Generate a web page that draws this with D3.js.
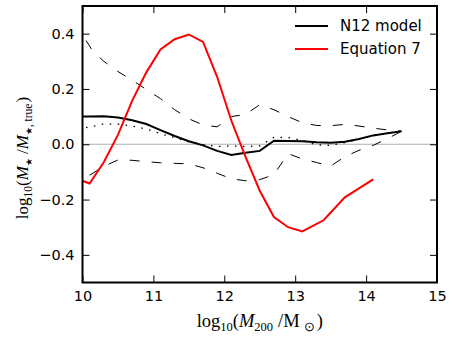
<!DOCTYPE html>
<html><head><meta charset="utf-8">
<script src="https://cdn.jsdelivr.net/npm/d3@7"></script>
<style>
html,body{margin:0;padding:0;background:#fff;}
svg{display:block;}
.tick text{font-family:"DejaVu Sans",sans-serif;}
</style>
</head><body>
<svg id="c" width="460" height="345"></svg>
<script>
// ---- data ----
const xTicks = [10, 11, 12, 13, 14, 15];
const yTicks = [-0.4, -0.2, 0.0, 0.2, 0.4];

const n12X = [10.0,10.1,10.3,10.5,10.7,10.9,11.1,11.3,11.5,11.7,11.9,12.1,12.3,12.5,12.7,12.9,13.1,13.3,13.5,13.7,13.9,14.1,14.3,14.5];
const n12Y = [0.100,0.100,0.101,0.097,0.087,0.073,0.051,0.030,0.011,-0.004,-0.024,-0.039,-0.031,-0.024,0.013,0.012,0.011,0.007,0.005,0.009,0.019,0.032,0.040,0.047];

const upperX = [10.05,10.15,10.3,10.5,10.7,10.9,11.1,11.3,11.5,11.7,11.9,12.1,12.3,12.5,12.7,12.9,13.1,13.3,13.5,13.7,13.9,14.1,14.3,14.5];
const upperY = [0.375,0.335,0.300,0.263,0.232,0.198,0.165,0.125,0.092,0.070,0.063,0.100,0.108,0.143,0.125,0.100,0.078,0.068,0.067,0.072,0.066,0.058,0.052,0.047];

const lowerX = [10.1,10.3,10.5,10.7,10.9,11.1,11.3,11.5,11.7,11.9,12.1,12.3,12.5,12.7,12.9,13.1,13.3,13.5,13.7,13.9,14.1,14.3,14.5];
const lowerY = [-0.112,-0.080,-0.057,-0.058,-0.063,-0.067,-0.069,-0.071,-0.085,-0.105,-0.125,-0.132,-0.128,-0.110,-0.034,-0.053,-0.066,-0.079,-0.045,-0.022,-0.004,0.020,0.047];

const dotX = [10.05,10.3,10.5,10.7,10.9,11.1,11.3,11.5,11.7,11.9,12.1,12.3,12.5,12.7,12.9,13.1,13.3,13.5,13.7,13.9,14.1,14.3,14.5];
const dotY = [0.060,0.073,0.073,0.066,0.055,0.038,0.024,0.009,-0.001,-0.008,-0.006,-0.008,-0.006,0.025,0.024,0.014,-0.002,-0.004,0.006,0.018,0.032,0.040,0.047];

const eq7X = [9.9,10.1,10.3,10.5,10.7,10.9,11.1,11.3,11.5,11.7,11.9,12.1,12.3,12.5,12.7,12.9,13.1,13.4,13.7,14.1];
const eq7Y = [-0.122,-0.142,-0.065,0.034,0.157,0.260,0.343,0.380,0.397,0.370,0.243,0.085,-0.046,-0.168,-0.263,-0.300,-0.315,-0.275,-0.192,-0.127];

const legendLabels = ["N12 model", "Equation 7"];
const legendColors = ["#000000", "#ff0000"];

// ---- layout ----
const W = 460, H = 345;
const m = {l: 82.5, r: 23, t: 6, b: 62.5};
const svg = d3.select("#c");
const x = d3.scaleLinear().domain([10, 15]).range([m.l, W - m.r]);
const y = d3.scaleLinear().domain([-0.5, 0.5]).range([H - m.b, m.t]);
const fmtY = d3.format(".1f");

svg.append("clipPath").attr("id", "clip").append("rect")
  .attr("x", x(10)).attr("y", y(0.5)).attr("width", x(15) - x(10)).attr("height", y(-0.5) - y(0.5));

// zero line
svg.append("line").attr("x1", x(10)).attr("x2", x(15)).attr("y1", y(0)).attr("y2", y(0))
  .attr("stroke", "#b0b0b0").attr("stroke-width", 1);

const line = d3.line().x(d => x(d[0])).y(d => y(d[1]));
const zipXY = (a, b) => a.map((v, i) => [v, b[i]]);
const g = svg.append("g").attr("clip-path", "url(#clip)");

g.append("path").datum(zipXY(upperX, upperY)).attr("d", line)
  .attr("fill", "none").attr("stroke", "#000").attr("stroke-width", 1).attr("stroke-dasharray", "10,12");
g.append("path").datum(zipXY(lowerX, lowerY)).attr("d", line)
  .attr("fill", "none").attr("stroke", "#000").attr("stroke-width", 1).attr("stroke-dasharray", "10,12");
g.append("path").datum(zipXY(dotX, dotY)).attr("d", line)
  .attr("fill", "none").attr("stroke", "#000").attr("stroke-width", 1.3).attr("stroke-dasharray", "1.5,6.5");
g.append("path").datum(zipXY(n12X, n12Y)).attr("d", line)
  .attr("fill", "none").attr("stroke", legendColors[0]).attr("stroke-width", 2);
g.append("path").datum(zipXY(eq7X, eq7Y)).attr("d", line)
  .attr("fill", "none").attr("stroke", legendColors[1]).attr("stroke-width", 2);

// axes (inward ticks on all sides)
const tickLen = 7;
const ax = svg.append("g").attr("transform", `translate(0,${y(-0.5)})`)
  .call(d3.axisBottom(x).tickValues(xTicks).tickSize(-tickLen).tickPadding(8).tickFormat(d3.format("d")));
const axT = svg.append("g").attr("transform", `translate(0,${y(0.5)})`)
  .call(d3.axisTop(x).tickValues(xTicks).tickSize(-tickLen).tickFormat(""));
const ay = svg.append("g").attr("transform", `translate(${x(10)},0)`)
  .call(d3.axisLeft(y).tickValues(yTicks).tickSize(-tickLen).tickPadding(8).tickFormat(fmtY));
const ayR = svg.append("g").attr("transform", `translate(${x(15)},0)`)
  .call(d3.axisRight(y).tickValues(yTicks).tickSize(-tickLen).tickFormat(""));
[ax, axT, ay, ayR].forEach(a => {
  a.select(".domain").remove();
  a.selectAll(".tick line").attr("stroke", "#000").attr("stroke-width", 1);
  a.selectAll(".tick text").attr("font-size", 14.5).attr("fill", "#000");
});

// frame
svg.append("rect").attr("x", x(10)).attr("y", y(0.5)).attr("width", x(15) - x(10)).attr("height", y(-0.5) - y(0.5))
  .attr("fill", "none").attr("stroke", "#000").attr("stroke-width", 2);

// legend
const lg = svg.append("g").attr("transform", "translate(295,26)");
legendLabels.forEach((lab, i) => {
  lg.append("line").attr("x1", 0).attr("x2", 33).attr("y1", i * 23).attr("y2", i * 23)
    .attr("stroke", legendColors[i]).attr("stroke-width", 2);
  lg.append("text").attr("x", 45).attr("y", i * 23).attr("dy", "0.35em")
    .attr("font-family", "DejaVu Sans, sans-serif").attr("font-size", 15).text(lab);
});

// axis labels (math-like)
const serif = "Liberation Serif, Times New Roman, serif";
function addParts(t, parts) {
  parts.forEach(p => {
    const ts = t.append("tspan").text(p.t);
    if (p.i) ts.attr("font-style", "italic");
    if (p.fs) ts.attr("font-size", p.fs);
    if (p.s) ts.attr("dy", p.s);
    if (p.dx) ts.attr("dx", p.dx);
  });
}
const xl = svg.append("text").attr("x", (x(10) + x(15)) / 2).attr("y", 327)
  .attr("text-anchor", "middle").attr("font-family", serif).attr("font-size", 18.5);
addParts(xl, [
  {t: "log"}, {t: "10", s: "4", fs: 12.5}, {t: "(", s: "-4"}, {t: "M", i: 1}, {t: "200", s: "4", fs: 12.5},
  {t: "/", s: "-4", dx: 5}, {t: "M"}, {t: "\u2299", s: "4", fs: 12.5, dx: 4}, {t: ")", s: "-4", dx: 2}
]);
const yl = svg.append("text").attr("transform", `translate(28,158) rotate(-90)`)
  .attr("text-anchor", "middle").attr("font-family", serif).attr("font-size", 17);
addParts(yl, [
  {t: "log"}, {t: "10", s: "4", fs: 11.5}, {t: "(", s: "-4"}, {t: "M", i: 1}, {t: "\u2605", s: "4", fs: 9},
  {t: "/", s: "-4", dx: 4}, {t: "M", i: 1}, {t: "\u2605", s: "4", fs: 9}, {t: ", true", fs: 11.5}, {t: ")", s: "-4", dx: 1}
]);
</script>
</body></html>
